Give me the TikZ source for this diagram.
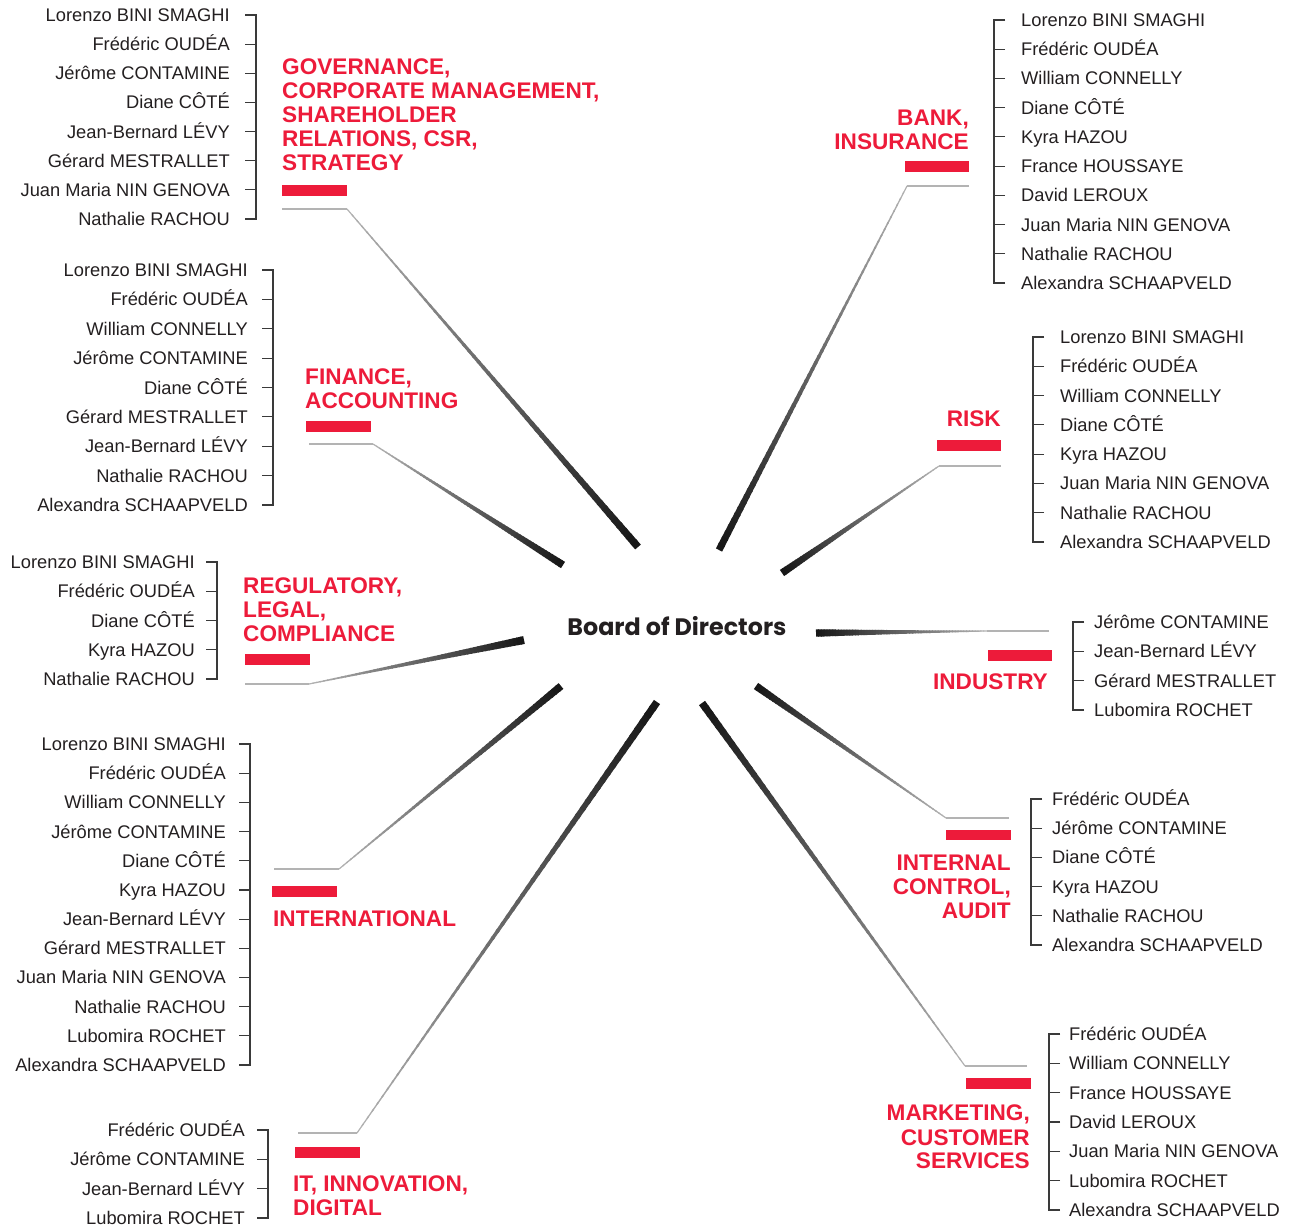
\documentclass[tikz,border=0pt]{standalone}
\usepackage{fontspec}
\setmainfont{Liberation Sans}
\newfontfamily\poppins{Poppins}
\usetikzlibrary{calc}
\definecolor{accent}{HTML}{ED1B3A}
\definecolor{ink}{HTML}{231F20}
\definecolor{brkcol}{HTML}{3A3A3A}
\definecolor{lgray}{HTML}{B3B3B3}
\tikzset{
  namel/.style={anchor=base east, inner sep=0pt, text=ink, font=\fontsize{18.3}{22}\selectfont},
  namer/.style={anchor=base west, inner sep=0pt, text=ink, font=\fontsize{18.3}{22}\selectfont},
  headl/.style={anchor=north west, align=left, inner sep=0pt, text=accent, font=\bfseries\fontsize{22.6}{24}\selectfont},
  headr/.style={anchor=north east, align=right, inner sep=0pt, text=accent, font=\bfseries\fontsize{22.6}{24}\selectfont},
  brk/.style={draw=brkcol, line width=1.2pt},
  hline/.style={draw=lgray, line width=1.3pt},
  redbar/.style={fill=accent},
}
\newcommand\drawspoke[3]{%
  \foreach \k in {0,...,59}{%
    \pgfmathsetmacro\ta{\k/60}%
    \pgfmathsetmacro\tb{min((\k+1.3)/60,1)}%
    \pgfmathsetmacro\lw{1.2+(#3-1.2)*((\k+0.5)/60)^1.3}%
    \pgfmathtruncatemacro\cl{30+62*(\k+0.5)/60}%
    \draw[line width=\lw pt, draw=black!\cl] ($(#1)!\ta!(#2)$) -- ($(#1)!\tb!(#2)$);%
  }%
}
\newcommand\leftgroup[7]{%
  \pgfmathsetmacro\gdy{(#5-#4)/(#6-1)}%
  \draw[brk] (#3-11,#4) -- (#3,#4) -- (#3,#5) -- (#3-11,#5);%
  \foreach \n [count=\i] in {#7}{%
    \pgfmathsetmacro\yy{#4+(\i-1)*\gdy}%
    \node[namel] (#1n\i) at (#2,\yy+6.5) {\n};%
    \draw[brk] (#3-11,\yy) -- (#3,\yy);%
  }%
}
\newcommand\rightgroup[7]{%
  \pgfmathsetmacro\gdy{(#5-#4)/(#6-1)}%
  \draw[brk] (#3+11,#4) -- (#3,#4) -- (#3,#5) -- (#3+11,#5);%
  \foreach \n [count=\i] in {#7}{%
    \pgfmathsetmacro\yy{#4+(\i-1)*\gdy}%
    \node[namer] (#1n\i) at (#2,\yy+6.5) {\n};%
    \draw[brk] (#3+11,\yy) -- (#3,\yy);%
  }%
}
\begin{document}
\begin{tikzpicture}[x=1pt,y=-1pt]
\useasboundingbox (0,0) rectangle (1290,1227);

% centre
\node[inner sep=0pt, text=ink, font=\poppins\bfseries\fontsize{23.8}{28}\selectfont] (bod) at (677,626) {Board of Directors};

% ---------- spokes ----------
\coordinate (s1a) at (282,209);  \coordinate (s1b) at (347,209);  \coordinate (s1c) at (638,547);
\coordinate (s2a) at (309,444);  \coordinate (s2b) at (373,444);  \coordinate (s2c) at (563,565);
\coordinate (s3a) at (245,684);  \coordinate (s3b) at (309,684);  \coordinate (s3c) at (524,640);
\coordinate (s4a) at (274,869);  \coordinate (s4b) at (339,869);  \coordinate (s4c) at (561,686);
\coordinate (s5a) at (298,1133); \coordinate (s5b) at (357,1133); \coordinate (s5c) at (657,702);
\coordinate (s6a) at (969,186);  \coordinate (s6b) at (907,186);  \coordinate (s6c) at (719,550);
\coordinate (s7a) at (1001,466); \coordinate (s7b) at (939,466);  \coordinate (s7c) at (782,573);
\coordinate (s8a) at (1049,631); \coordinate (s8b) at (987,631);  \coordinate (s8c) at (816,633);
\coordinate (s9a) at (1009,818); \coordinate (s9b) at (946,818);  \coordinate (s9c) at (756,686);
\coordinate (s10a) at (1027,1066); \coordinate (s10b) at (965,1066); \coordinate (s10c) at (702,703);
\foreach \s in {1,...,10}{\draw[hline] (s\s a) -- (s\s b);}
\drawspoke{s1b}{s1c}{7.5}
\drawspoke{s2b}{s2c}{7.5}
\drawspoke{s3b}{s3c}{8}
\drawspoke{s4b}{s4c}{7.5}
\drawspoke{s5b}{s5c}{7.5}
\drawspoke{s6b}{s6c}{7}
\drawspoke{s7b}{s7c}{7.5}
\drawspoke{s8b}{s8c}{7.5}
\drawspoke{s9b}{s9c}{7.5}
\drawspoke{s10b}{s10c}{7.5}

% ---------- red bars ----------
\fill[redbar] (282,185) rectangle (347,196);
\fill[redbar] (306,421) rectangle (371,432);
\fill[redbar] (245,654) rectangle (310,665);
\fill[redbar] (272,886) rectangle (337,897);
\fill[redbar] (295,1147) rectangle (360,1158);
\fill[redbar] (905,161) rectangle (969,172);
\fill[redbar] (937,440) rectangle (1001,451);
\fill[redbar] (988,650) rectangle (1052,661);
\fill[redbar] (946,830) rectangle (1011,840);
\fill[redbar] (966,1078) rectangle (1031,1089);

% ---------- headings ----------
\node[headl] (h1) at (282,59) {GOVERNANCE,\\CORPORATE MANAGEMENT,\\SHAREHOLDER\\RELATIONS, CSR,\\STRATEGY};
\node[headl] (h2) at (305,369) {FINANCE,\\ACCOUNTING};
\node[headl] (h3) at (243,578) {REGULATORY,\\LEGAL,\\COMPLIANCE};
\node[headl] (h4) at (273,911) {INTERNATIONAL};
\node[headl] (h5) at (293,1175) {IT, INNOVATION,\\DIGITAL};
\node[headr] (h6) at (969,110) {BANK,\\INSURANCE};
\node[headr] (h7) at (1001,411) {RISK};
\node[headr] (h8) at (1048,674) {INDUSTRY};
\node[headr] (h9) at (1011,855) {INTERNAL\\CONTROL,\\AUDIT};
\node[headr] (h10) at (1030,1105) {MARKETING,\\CUSTOMER\\SERVICES};

% ---------- member lists ----------
\leftgroup{ga}{230}{256}{15}{219}{8}{Lorenzo BINI SMAGHI,Frédéric OUDÉA,Jérôme CONTAMINE,Diane CÔTÉ,Jean-Bernard LÉVY,Gérard MESTRALLET,Juan Maria NIN GENOVA,Nathalie RACHOU}
\leftgroup{gb}{248}{273}{270}{505}{9}{Lorenzo BINI SMAGHI,Frédéric OUDÉA,William CONNELLY,Jérôme CONTAMINE,Diane CÔTÉ,Gérard MESTRALLET,Jean-Bernard LÉVY,Nathalie RACHOU,Alexandra SCHAAPVELD}
\leftgroup{gc}{195}{217}{562}{679}{5}{Lorenzo BINI SMAGHI,Frédéric OUDÉA,Diane CÔTÉ,Kyra HAZOU,Nathalie RACHOU}
\leftgroup{gd}{226}{250}{744}{1065}{12}{Lorenzo BINI SMAGHI,Frédéric OUDÉA,William CONNELLY,Jérôme CONTAMINE,Diane CÔTÉ,Kyra HAZOU,Jean-Bernard LÉVY,Gérard MESTRALLET,Juan Maria NIN GENOVA,Nathalie RACHOU,Lubomira ROCHET,Alexandra SCHAAPVELD}
\leftgroup{ge}{245}{268}{1130}{1218}{4}{Frédéric OUDÉA,Jérôme CONTAMINE,Jean-Bernard LÉVY,Lubomira ROCHET}
\rightgroup{gf}{1021}{994}{20}{283}{10}{Lorenzo BINI SMAGHI,Frédéric OUDÉA,William CONNELLY,Diane CÔTÉ,Kyra HAZOU,France HOUSSAYE,David LEROUX,Juan Maria NIN GENOVA,Nathalie RACHOU,Alexandra SCHAAPVELD}
\rightgroup{gg}{1060}{1033}{337}{542}{8}{Lorenzo BINI SMAGHI,Frédéric OUDÉA,William CONNELLY,Diane CÔTÉ,Kyra HAZOU,Juan Maria NIN GENOVA,Nathalie RACHOU,Alexandra SCHAAPVELD}
\rightgroup{gh}{1094}{1073}{622}{710}{4}{Jérôme CONTAMINE,Jean-Bernard LÉVY,Gérard MESTRALLET,Lubomira ROCHET}
\rightgroup{gi}{1052}{1031}{799}{945}{6}{Frédéric OUDÉA,Jérôme CONTAMINE,Diane CÔTÉ,Kyra HAZOU,Nathalie RACHOU,Alexandra SCHAAPVELD}
\rightgroup{gj}{1069}{1049}{1034}{1210}{7}{Frédéric OUDÉA,William CONNELLY,France HOUSSAYE,David LEROUX,Juan Maria NIN GENOVA,Lubomira ROCHET,Alexandra SCHAAPVELD}
\end{tikzpicture}
\end{document}
